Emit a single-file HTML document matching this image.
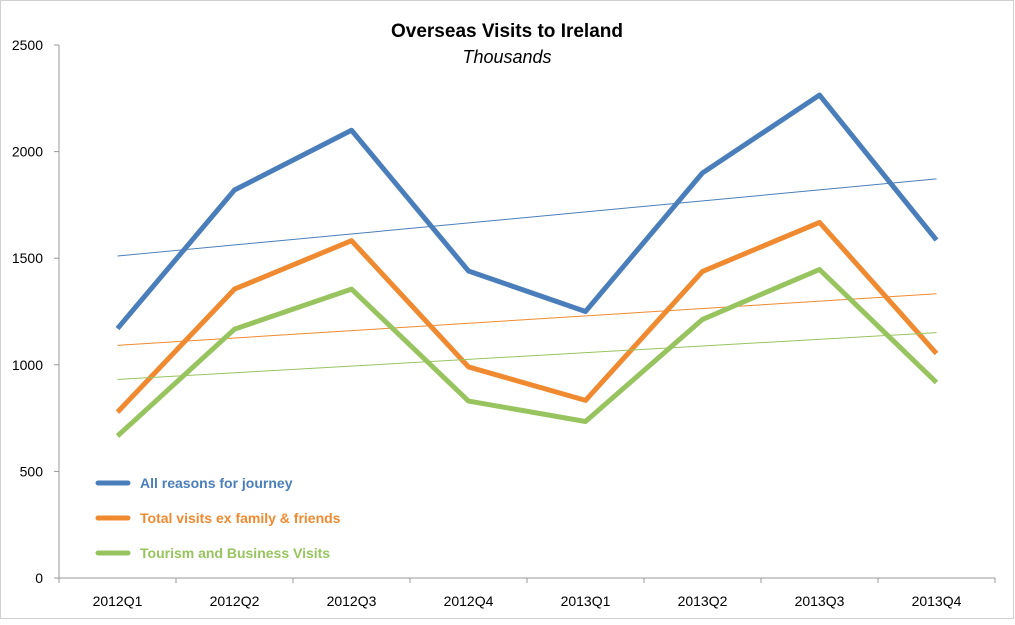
<!DOCTYPE html>
<html><head><meta charset="utf-8"><style>
body{margin:0;background:#fff;}
svg text{font-family:"Liberation Sans",sans-serif;}
</style></head><body>
<svg width="1015" height="620" id="c">
<rect x="0.5" y="0.5" width="1013" height="618" fill="#fff" stroke="#d0d0d0"/>
<text x="507" y="37" text-anchor="middle" font-size="19" font-weight="bold">Overseas Visits to Ireland</text>
<text x="507" y="63" text-anchor="middle" font-size="18" font-style="italic">Thousands</text>
</svg>
<script>
const categories=["2012Q1","2012Q2","2012Q3","2012Q4","2013Q1","2013Q2","2013Q3","2013Q4"];
const allReasons=[1170,1820,2100,1440,1250,1900,2265,1585];
const exFamily=[778,1355,1582,990,833,1438,1668,1053];
const tourism=[666,1167,1355,830,734,1213,1447,917];
const yTicks=[0,500,1000,1500,2000,2500];
const seriesNames=["All reasons for journey","Total visits ex family & friends","Tourism and Business Visits"];
const svg=document.getElementById('c');const NS='http://www.w3.org/2000/svg';
const x0=59,cw=117,yb=578,yt=45,ymax=2500;
const X=i=>x0+cw*(i+0.5);const Y=v=>yb-(v/ymax)*(yb-yt);
function mk(t,a){const e=document.createElementNS(NS,t);for(const k in a)e.setAttribute(k,a[k]);svg.appendChild(e);return e;}
let e=mk('line',{x1:x0,y1:yt,x2:x0,y2:yb,stroke:'#999'});


e=mk('line',{x1:x0,y1:yb,x2:x0+cw*8,y2:yb,stroke:'#999'});


yTicks.forEach(v=>{
 let l=mk('line',{x1:x0-5,y1:Y(v),x2:x0,y2:Y(v),stroke:'#999'});
 
 
 let t=mk('text',{x:x0-16,y:Y(v)+5,'text-anchor':'end','font-size':14});t.textContent=v;
 
 
});
for(let i=0;i<=8;i++){let l=mk('line',{x1:x0+cw*i,y1:yb,x2:x0+cw*i,y2:yb+5,stroke:'#999'});
 
 }
categories.forEach((c,i)=>{let t=mk('text',{x:X(i),y:yb+28,'text-anchor':'middle','font-size':14});t.textContent=c;
 
 });
const series=[allReasons,exFamily,tourism];const colors=['#4a7ebb','#f08a31','#98c45f'];
series.forEach((d,s)=>{
 const n=d.length;let sx=0,sy=0,sxy=0,sxx=0;d.forEach((v,i)=>{sx+=i;sy+=v;sxy+=i*v;sxx+=i*i;});
 const b=(n*sxy-sx*sy)/(n*sxx-sx*sx),a=(sy-b*sx)/n;
 let tl=mk('line',{x1:X(0),y1:Y(a),x2:X(n-1),y2:Y(a+b*(n-1)),stroke:colors[s],'stroke-width':1});
 
 
 let p=mk('polyline',{points:d.map((v,i)=>X(i)+','+Y(v)).join(' '),fill:'none',stroke:colors[s],'stroke-width':5,'stroke-linejoin':'round'});
 
 
 const ly=483+s*35;
 let ll=mk('line',{x1:98,y1:ly,x2:128,y2:ly,stroke:colors[s],'stroke-width':5,'stroke-linecap':'round'});
 
 
 let lt=mk('text',{x:140,y:ly+5,'font-size':14,'font-weight':'bold',fill:colors[s]});lt.textContent=seriesNames[s];
 
 
});
</script>
</body></html>
